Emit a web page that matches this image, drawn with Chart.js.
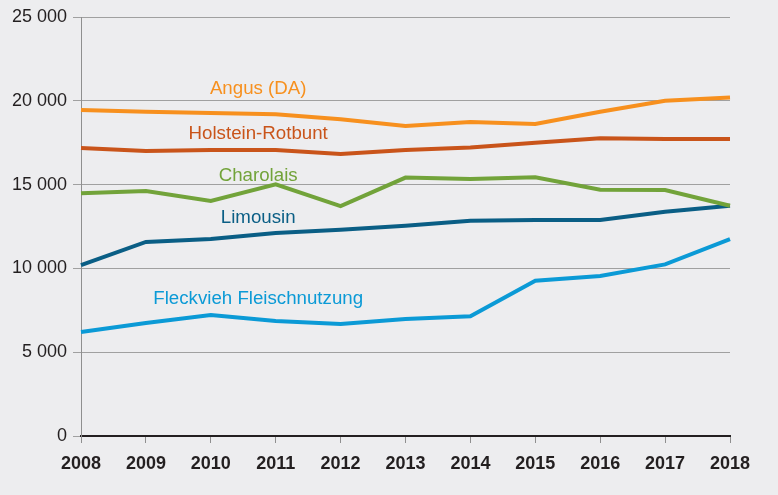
<!DOCTYPE html>
<html>
<head>
<meta charset="utf-8">
<script src="https://cdn.jsdelivr.net/npm/chart.js@4"></script>
<style>
  html, body { margin: 0; padding: 0; background: #ededef; }
  #wrap { width: 778px; height: 495px; }
</style>
</head>
<body>
<div id="wrap"><canvas id="chart"></canvas></div>
<script>
"use strict";

// years on the x axis
var years = ["2008", "2009", "2010", "2011", "2012", "2013", "2014", "2015", "2016", "2017", "2018"];

// values per breed
var angus     = [19450, 19350, 19270, 19200, 18900, 18500, 18730, 18620, 19350, 20000, 20200];
var holstein  = [17180, 17000, 17060, 17060, 16830, 17060, 17220, 17500, 17760, 17720, 17720];
var charolais = [14480, 14620, 14020, 15020, 13720, 15420, 15330, 15440, 14700, 14680, 13740];
var limousin  = [10200, 11580, 11750, 12110, 12300, 12550, 12850, 12890, 12890, 13380, 13740];
var fleckvieh = [6200, 6740, 7220, 6860, 6680, 6980, 7140, 9270, 9550, 10240, 11740];

var yTicks = [0, 5000, 10000, 15000, 20000, 25000];

var seriesNames = ["Angus (DA)", "Holstein-Rotbunt", "Charolais", "Limousin", "Fleckvieh Fleischnutzung"];
var seriesColors = ["#f7901e", "#c9541a", "#72a33a", "#0a5e85", "#0b9ad6"];

// where the series names sit (x as category index, y as value)
var nameAnchors = [
    { x: 2.73, y: 20700 },
    { x: 2.73, y: 18000 },
    { x: 2.73, y: 15550 },
    { x: 2.73, y: 13000 },
    { x: 2.73, y: 8170 }
];

var fontFamily = "'Liberation Sans', Arial, Helvetica, sans-serif";

var seriesLabels = {
    id: "seriesLabels",
    afterDatasetsDraw: function (chart) {
        var ctx = chart.ctx,
            xs = chart.scales.x,
            ys = chart.scales.y;
        ctx.save();
        ctx.font = "18.7px " + fontFamily;
        ctx.textAlign = "center";
        ctx.textBaseline = "middle";
        nameAnchors.forEach(function (a, i) {
            ctx.fillStyle = seriesColors[i];
            ctx.fillText(seriesNames[i], xs.getPixelForValue(a.x), ys.getPixelForValue(a.y));
        });
        ctx.restore();
    }
};

var allSeries = [angus, holstein, charolais, limousin, fleckvieh];

var chart = new Chart(document.getElementById("chart"), {
    type: "line",
    data: {
        labels: years,
        datasets: allSeries.map(function (values, i) {
            return {
                label: seriesNames[i],
                data: values,
                borderColor: seriesColors[i],
                backgroundColor: seriesColors[i],
                borderWidth: 4,
                pointRadius: 0,
                tension: 0,
                fill: false
            };
        })
    },
    options: {
        responsive: true,
        maintainAspectRatio: false,
        animation: false,
        layout: { padding: { top: 17, right: 48, left: 0, bottom: 0 } },
        plugins: {
            legend: { display: false },
            tooltip: { enabled: false }
        },
        scales: {
            x: {
                offset: false,
                grid: { drawOnChartArea: false, color: "#8f8f8f", tickLength: 7, lineWidth: 1 },
                border: { color: "#231f20", width: 2 },
                ticks: {
                    color: "#231f20",
                    padding: 10,
                    maxRotation: 0,
                    font: { family: fontFamily, size: 18, weight: "bold" }
                },
                afterFit: function (s) { s.height = 59; }
            },
            y: {
                min: 0,
                max: 25000,
                afterBuildTicks: function (s) {
                    s.ticks = yTicks.map(function (v) { return { value: v }; });
                },
                grid: { color: "#a0a0a0", tickLength: 8, lineWidth: 1 },
                border: { color: "#8f8f8f", width: 1 },
                ticks: {
                    color: "#231f20",
                    padding: 6,
                    font: { family: fontFamily, size: 18 },
                    callback: function (v) {
                        return String(v).replace(/\B(?=(\d{3})+(?!\d))/g, " ");
                    }
                },
                afterFit: function (s) { s.width = 81; }
            }
        }
    },
    plugins: [seriesLabels]
});
</script>
</body>
</html>
